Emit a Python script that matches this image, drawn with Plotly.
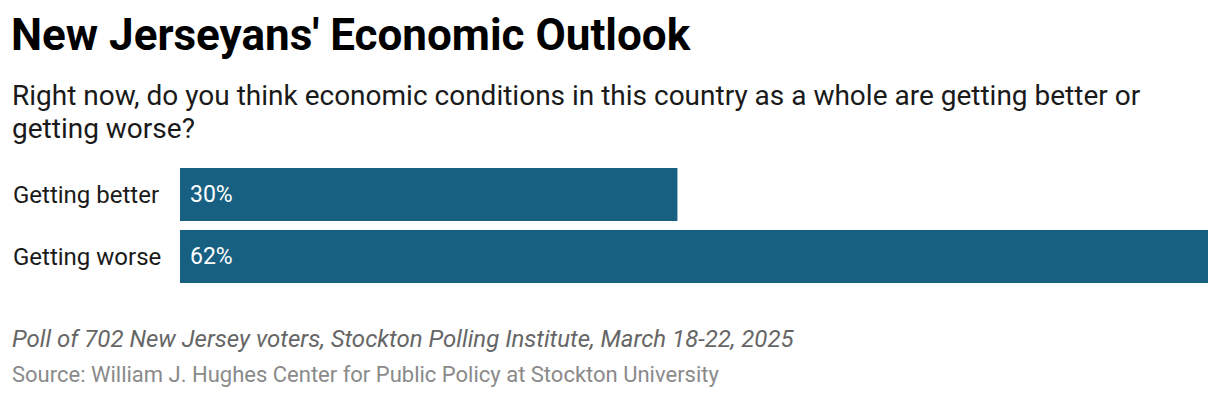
import plotly.graph_objects as go

categories = ["Getting better", "Getting worse"]
values = [30, 62]
value_labels = ["30%", "62%"]

title = "New Jerseyans' Economic Outlook"
subtitle_lines = [
    "Right now, do you think economic conditions in this country as a whole are getting better or",
    "getting worse?",
]
note = "Poll of 702 New Jersey voters, Stockton Polling Institute, March 18-22, 2025"
source = "Source: William J. Hughes Center for Public Policy at Stockton University"

# page is rendered with an 8px body margin, so positions below are page pixels minus 8
OFF = 8
W, H = 1220 - OFF, 398 - OFF
L, R, T, B = 180 - OFF, 12, 168 - OFF, 398 - 283
PW, PH = W - L - R, H - T - B


def px(x_page):
    return (x_page - OFF - L) / PW


def py(y_page):
    return 1 - (y_page - OFF - T) / PH


BAR = "#186082"
FONT = "Roboto"
BARGAP = 9 / 62  # gap between bars relative to bar pitch
half = (1 - BARGAP) / 2

fig = go.Figure(go.Bar(
    x=values, y=categories, orientation="h",
    marker=dict(color=BAR, line=dict(width=0)),
    hoverinfo="skip",
))

ann = []
for c, v, t in zip(categories, values, value_labels):
    ann.append(dict(x=0, y=c, xref="x", yref="y", text=t, showarrow=False,
                    xanchor="left", yanchor="middle", xshift=8,
                    font=dict(family=FONT, size=23, color="white")))
    ann.append(dict(x=px(11), y=c, xref="paper", yref="y", text=c, showarrow=False,
                    xanchor="left", yanchor="middle",
                    font=dict(family=FONT, size=24, color="#1a1a1a")))


def text_line(txt, y_center, size, color, x_page=10):
    return dict(x=px(x_page), y=py(y_center), xref="paper", yref="paper", text=txt,
                showarrow=False, xanchor="left", yanchor="middle", align="left",
                font=dict(family=FONT, size=size, color=color))


ann.append(text_line("<b>" + title + "</b>", 50 - 0.34 * 44, 44, "#000000", 9))
ann.append(text_line(subtitle_lines[0], 105 - 0.34 * 28, 28, "#1a1a1a"))
ann.append(text_line(subtitle_lines[1], 138 - 0.34 * 28, 28, "#1a1a1a"))
ann.append(text_line("<i>" + note + "</i>", 347 - 0.34 * 24, 24, "#666666"))
ann.append(text_line(source, 382 - 0.34 * 22, 22, "#8a8a8a"))

fig.update_layout(
    width=W, height=H,
    margin=dict(l=L, r=R, t=T, b=B),
    paper_bgcolor="white", plot_bgcolor="white",
    bargap=BARGAP,
    showlegend=False,
    xaxis=dict(range=[0, max(values)], visible=False, fixedrange=True),
    yaxis=dict(range=[len(categories) - 1 + half, -half], visible=False, fixedrange=True),
    annotations=ann,
    font=dict(family=FONT),
)

fig.write_html("out.html", config=dict(displayModeBar=False))
